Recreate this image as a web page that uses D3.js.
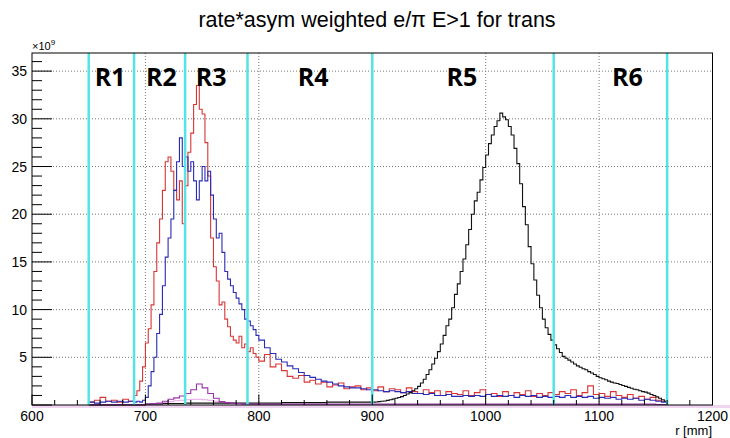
<!DOCTYPE html>
<html>
<head>
<meta charset="utf-8">
<script src="https://cdn.jsdelivr.net/npm/d3@7"></script>
<style>
  body { margin: 0; background: #fff; }
  svg { display: block; }
</style>
</head>
<body>
<svg width="730" height="438"></svg>
<script>
// values in units of 1e9. Each series is split in pieces with their own bin width (mm)

// red: 650-690 (5 mm), 690-800 (2.5 mm), 800-1160 (5 mm)
const redLow = [0.3, 0.5, 0.8, 0.4, 0.5, 0.3, 0.6, 0.4];
const redPeak = [
    1.0, 1.5, 2.5, 4.0, 6.5, 8.0, 10.5, 14.0, 17.0, 19.5,
    22.5, 25.5, 26.0, 24.5, 22.5, 21.5, 23.5, 19.0, 23.0, 26.5,
    28.5, 31.5, 33.5, 31.0, 30.5, 27.5, 24.0, 17.5, 14.5, 13.0,
    10.5, 10.8, 9.0, 8.2, 7.2, 6.8, 6.5, 7.2, 6.0, 6.4,
    5.6, 6.0, 5.4, 5.0
];
const redTail = [
    4.6, 5.3, 4.0, 4.3, 3.6, 3.0, 2.8, 3.1, 2.4, 2.6,
    2.2, 2.4, 1.9, 2.1, 2.3, 1.7, 1.9, 2.0, 1.6, 1.8,
    1.5, 1.9, 1.4, 1.7, 1.6, 1.3, 1.8, 1.4, 1.2, 1.6,
    1.3, 1.5, 1.0, 1.4, 1.2, 1.1, 1.5, 1.0, 1.3, 1.6,
    1.1, 1.2, 0.9, 1.4, 1.0, 1.3, 1.1, 1.5, 0.9, 1.2,
    1.0, 1.3, 1.1, 1.4, 1.2, 1.6, 1.0, 1.3, 2.0, 1.1,
    1.2, 0.9, 1.4, 1.0, 0.8, 1.1, 0.7, 0.9, 0.6, 0.8, 0.5, 0.4
];

// blue: same binning as red
const blueLow = [0.3, 0.2, 0.3, 0.4, 0.3, 0.4, 0.3, 0.4];
const bluePeak = [
    0.3, 0.4, 0.3, 0.5, 0.8, 2.0, 3.5, 5.0, 7.5, 9.5,
    12.5, 15.5, 17.5, 19.5, 22.5, 25.5, 28.0, 25.0, 26.0, 24.5,
    25.5, 23.5, 21.5, 23.5, 25.0, 23.5, 24.5, 22.0, 19.5, 17.5,
    18.0, 16.0, 14.0, 13.2, 12.5, 11.8, 11.2, 10.6, 10.0, 9.0,
    8.8, 8.3, 7.9, 7.3
];
const blueTail = [
    6.8, 6.0, 5.4, 4.8, 4.5, 4.1, 3.8, 3.4, 3.1, 2.9,
    2.7, 2.5, 2.4, 2.2, 2.0, 1.9, 1.8, 1.8, 1.7, 1.6,
    1.6, 1.5, 1.4, 1.5, 1.4, 1.3, 1.4, 1.2, 1.2, 1.1,
    1.2, 1.0, 1.0, 1.1, 0.9, 0.9, 1.0, 0.9, 1.0, 0.9,
    1.1, 0.9, 1.0, 0.9, 1.0, 0.8, 1.0, 0.9, 1.0, 0.8,
    0.9, 0.8, 0.9, 0.8, 1.0, 0.8, 0.9, 0.8, 0.9, 0.7,
    0.8, 0.7, 0.8, 0.6, 0.7, 0.6, 0.7, 0.5, 0.6, 0.5, 0.4, 0.3
];

// black: 650-900 (5 mm), 900-1160 (2.5 mm)
const blackLow = [
    0, 0, 0, 0, 0, 0, 0, 0, 0, 0,
    0.1, 0.1, 0.1, 0.15, 0.15, 0.15, 0.15, 0.2, 0.2, 0.2,
    0.2, 0.2, 0.2, 0.2, 0.2, 0.2, 0.2, 0.2, 0.2, 0.2,
    0.2, 0.2, 0.2, 0.2, 0.25, 0.25, 0.25, 0.25, 0.25, 0.25,
    0.25, 0.25, 0.3, 0.3, 0.3, 0.3, 0.3, 0.3, 0.3, 0.3
];
const blackPeak = [
    0.30, 0.32, 0.35, 0.40, 0.42, 0.48, 0.55, 0.62, 0.70, 0.78,
    0.88, 1.0, 1.15, 1.3, 1.5, 1.7, 1.95, 2.3, 2.7, 3.2,
    3.7, 4.3, 4.9, 5.6, 6.4, 7.3, 8.3, 9.0, 10.2, 11.6,
    12.7, 14.0, 15.3, 16.8, 18.4, 20.0, 21.4, 22.3, 23.6, 24.9,
    26.2, 27.4, 28.3, 29.2, 29.8, 30.6, 30.2, 29.9, 29.2, 28.3,
    26.9, 25.3, 23.2, 20.8, 18.9, 16.6, 14.8, 13.1, 11.5, 10.2,
    9.0, 8.1, 7.4, 6.8, 6.3, 5.9, 5.5, 5.1, 4.9, 4.7,
    4.5, 4.3, 4.1, 3.95, 3.8, 3.7, 3.5, 3.35, 3.2, 3.0,
    2.85, 2.75, 2.65, 2.5, 2.4, 2.3, 2.25, 2.15, 2.05, 1.95,
    1.85, 1.75, 1.65, 1.6, 1.5, 1.4, 1.35, 1.25, 1.1, 1.0,
    0.85, 0.7, 0.55, 0.4
];

// purple and light pink: 650-1160 (5 mm)
const purpleVals = [
    0.05, 0.05, 0.05, 0.05, 0.05, 0.05, 0.05, 0.05, 0.05, 0.05,
    0.1, 0.15, 0.2, 0.4, 0.6, 0.75, 0.95, 1.2, 1.6, 2.2,
    1.8, 1.2, 0.7, 0.35, 0.25, 0.2, 0.15, 0.12, 0.1, 0.1,
    0.1, 0.1, 0.1, 0.1, 0.1, 0.1, 0.1, 0.1, 0.1, 0.1,
    0.1, 0.1, 0.1, 0.1, 0.1, 0.1, 0.1, 0.1, 0.1, 0.1,
    0.1, 0.1, 0.1, 0.1, 0.1, 0.1, 0.1, 0.1, 0.1, 0.1,
    0.1, 0.1, 0.1, 0.1, 0.1, 0.1, 0.1, 0.1, 0.1, 0.1,
    0.1, 0.1, 0.1, 0.1, 0.1, 0.1, 0.1, 0.1, 0.1, 0.1,
    0.1, 0.1, 0.1, 0.1, 0.1, 0.1, 0.1, 0.1, 0.1, 0.1,
    0.1, 0.1, 0.1, 0.1, 0.1, 0.1, 0.1, 0.1, 0.1, 0.1, 0.05, 0.05
];
const pinkVals = [
    0, 0, 0, 0, 0, 0, 0, 0, 0, 0,
    0.05, 0.1, 0.15, 0.25, 0.35, 0.45, 0.5, 0.55, 0.6, 0.6,
    0.55, 0.5, 0.4, 0.3, 0.2, 0.15, 0.1, 0.1, 0.05, 0.05,
    0.05, 0.05, 0.05, 0.05, 0.05, 0.05, 0.05, 0.05, 0.05, 0.05,
    0.05, 0.05, 0.05, 0.05, 0.05, 0.05, 0.05, 0.05, 0.05, 0.05,
    0.05, 0.05, 0.05, 0.05, 0.05, 0.05, 0.05, 0.05, 0.05, 0.05,
    0.05, 0.05, 0.05, 0.05, 0.05, 0.05, 0.05, 0.05, 0.05, 0.05,
    0.05, 0.05, 0.05, 0.05, 0.05, 0.05, 0.05, 0.05, 0.05, 0.05,
    0.05, 0.05, 0.05, 0.05, 0.05, 0.05, 0.05, 0.05, 0.05, 0.05,
    0.05, 0.05, 0.05, 0.05, 0.05, 0.05, 0.05, 0.05, 0.05, 0.05, 0.05, 0.05
];

// region boundaries and labels
const regionEdges = [650, 690, 735, 790, 900, 1060, 1160];
const regionNames = ['R1', 'R2', 'R3', 'R4', 'R5', 'R6'];
const regionLabelX = [669, 714, 758, 848, 979, 1125];

const xTicks = [600, 700, 800, 900, 1000, 1100, 1200];
const yTicks = [5, 10, 15, 20, 25, 30, 35];

const title = 'rate*asym weighted e/\u03c0 E>1 for trans';

const svg = d3.select('svg');
const frameL = 32, frameR = 712.5, frameT = 53, frameB = 405;

const x = d3.scaleLinear().domain([600, 1200]).range([frameL, frameR]);
const y = d3.scaleLinear().domain([0, 36.9]).range([frameB, frameT]);

const font = '"Liberation Sans", Arial, sans-serif';

// grid (dotted)
const grid = svg.append('g')
    .attr('stroke', '#777')
    .attr('stroke-width', 1)
    .attr('stroke-dasharray', '1,2');
grid.selectAll('line.gx')
    .data(xTicks.slice(1, -1))
    .enter().append('line')
    .attr('x1', d => x(d)).attr('x2', d => x(d))
    .attr('y1', frameT).attr('y2', frameB);
grid.selectAll('line.gy')
    .data(yTicks)
    .enter().append('line')
    .attr('x1', frameL).attr('x2', frameR)
    .attr('y1', d => y(d)).attr('y2', d => y(d));

// light pink band along the bottom
svg.append('rect')
    .attr('x', frameL).attr('y', frameB)
    .attr('width', 730 - frameL).attr('height', 3)
    .attr('fill', '#f1d6f1');

// pieces: [first edge, bin width, values]
function histPoints(pieces) {
    const pts = [];
    let edge = 0, last = 0;
    pieces.forEach(function (p) {
        p[2].forEach(function (v, i) {
            pts.push([p[0] + i * p[1], v]);
        });
        edge = p[0] + p[2].length * p[1];
        last = p[2][p[2].length - 1];
    });
    pts.push([edge, last]);
    return pts;
}
const histLine = d3.line()
    .x(d => x(d[0]))
    .y(d => y(d[1]))
    .curve(d3.curveStepAfter);

const series = [
    { pieces: [[650, 5, pinkVals]], color: '#e6a8e6' },
    { pieces: [[650, 5, redLow], [690, 2.5, redPeak], [800, 5, redTail]], color: '#d93535' },
    { pieces: [[650, 5, blueLow], [690, 2.5, bluePeak], [800, 5, blueTail]], color: '#2a2ab8' },
    { pieces: [[650, 5, blackLow], [900, 2.5, blackPeak]], color: '#111' },
    { pieces: [[650, 5, purpleVals]], color: '#9a32a8' }
];
svg.append('g').selectAll('path')
    .data(series)
    .enter().append('path')
    .attr('d', d => histLine(histPoints(d.pieces)))
    .attr('fill', 'none')
    .attr('stroke', d => d.color)
    .attr('stroke-width', 1.1);

// region boundaries
svg.append('g').selectAll('line')
    .data(regionEdges)
    .enter().append('line')
    .attr('x1', d => x(d)).attr('x2', d => x(d))
    .attr('y1', frameT).attr('y2', frameB)
    .attr('stroke', '#55e3e3')
    .attr('stroke-width', 2.5);

svg.append('g').selectAll('text')
    .data(regionNames)
    .enter().append('text')
    .attr('x', (d, i) => x(regionLabelX[i]))
    .attr('y', 86)
    .attr('text-anchor', 'middle')
    .attr('font-family', '"Open Sans", sans-serif')
    .attr('font-weight', 'bold')
    .attr('font-size', '25px')
    .text(d => d);

// frame
svg.append('rect')
    .attr('x', frameL).attr('y', frameT)
    .attr('width', frameR - frameL).attr('height', frameB - frameT)
    .attr('fill', 'none')
    .attr('stroke', '#000')
    .attr('stroke-width', 1);

// y ticks (inside, pointing right)
const yMinor = d3.range(0, 37, 1);
svg.append('g').selectAll('line')
    .data(yMinor)
    .enter().append('line')
    .attr('x1', frameL)
    .attr('x2', d => frameL + (d % 5 === 0 ? 20 : 10))
    .attr('y1', d => y(d)).attr('y2', d => y(d))
    .attr('stroke', '#000');

// x ticks (inside, pointing up)
const xMinor = d3.range(600, 1201, 20);
svg.append('g').selectAll('line')
    .data(xMinor)
    .enter().append('line')
    .attr('x1', d => x(d)).attr('x2', d => x(d))
    .attr('y1', frameB)
    .attr('y2', d => frameB - (d % 100 === 0 ? 10.5 : 5))
    .attr('stroke', '#000');

// tick labels
svg.append('g').selectAll('text')
    .data(xTicks)
    .enter().append('text')
    .attr('x', d => x(d))
    .attr('y', 421)
    .attr('text-anchor', 'middle')
    .attr('font-family', font)
    .attr('font-size', '14px')
    .text(d => d);

svg.append('g').selectAll('text')
    .data(yTicks)
    .enter().append('text')
    .attr('x', 27)
    .attr('y', d => y(d) + 5)
    .attr('text-anchor', 'end')
    .attr('font-family', font)
    .attr('font-size', '14px')
    .text(d => d);

// exponent label
const expo = svg.append('text')
    .attr('x', 32).attr('y', 50)
    .attr('font-family', font)
    .attr('font-size', '11px');
expo.append('tspan').text('\u00d710');
expo.append('tspan').attr('dy', -5).attr('font-size', '8px').text('9');

// axis title
svg.append('text')
    .attr('x', 712).attr('y', 435)
    .attr('text-anchor', 'end')
    .attr('font-family', font)
    .attr('font-size', '13px')
    .text('r [mm]');

// title
svg.append('text')
    .attr('x', 377).attr('y', 27)
    .attr('text-anchor', 'middle')
    .attr('font-family', font)
    .attr('font-size', '21.5px')
    .text(title);
</script>
</body>
</html>
